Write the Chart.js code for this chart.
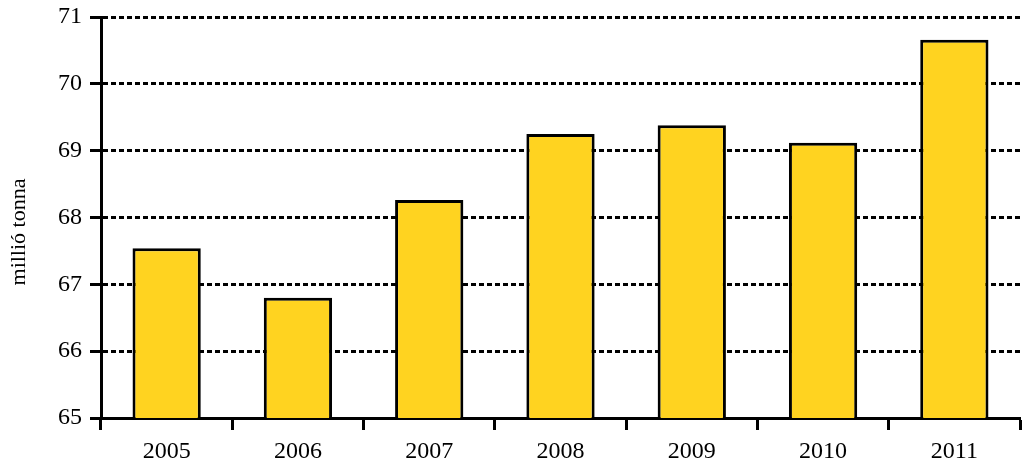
<!DOCTYPE html>
<html>
<head>
<meta charset="utf-8">
<script src="https://cdn.jsdelivr.net/npm/chart.js@4/dist/chart.umd.min.js"></script>
<style>
  html, body { margin: 0; padding: 0; background: #fff; }
  #wrap { width: 1022px; height: 465px; }
</style>
</head>
<body>
<div id="wrap"><canvas id="chart"></canvas></div>
<script>
const years = ['2005', '2006', '2007', '2008', '2009', '2010', '2011'];
const tonnes = [67.54, 66.80, 68.26, 69.25, 69.38, 69.12, 70.66];
const yTicks = [65, 66, 67, 68, 69, 70, 71];
const yTitle = 'millió tonna';

const serif = '"Liberation Serif", "DejaVu Serif", serif';

// rotated axis title, centred on the canvas height like the original
const sideTitle = {
    id: 'sideTitle',
    afterDraw(chart) {
        const ctx = chart.ctx;
        ctx.save();
        ctx.translate(19, 232);
        ctx.rotate(-Math.PI / 2);
        ctx.font = '22px ' + serif;
        ctx.fillStyle = '#000';
        ctx.textAlign = 'center';
        ctx.textBaseline = 'middle';
        ctx.fillText(yTitle, 0, 0);
        ctx.restore();
    }
};

new Chart(document.getElementById('chart'), {
    type: 'bar',
    data: {
        labels: years,
        datasets: [{
            data: tonnes,
            backgroundColor: 'rgb(255,211,32)',
            borderColor: '#000',
            borderWidth: 3,
            borderSkipped: 'bottom',
            categoryPercentage: 1,
            barPercentage: 0.52
        }]
    },
    options: {
        responsive: true,
        maintainAspectRatio: false,
        animation: false,
        layout: { padding: { top: 0, right: 2, left: 0, bottom: 0 } },
        plugins: {
            legend: { display: false },
            tooltip: { enabled: false }
        },
        scales: {
            x: {
                offset: true,
                grid: {
                    offset: true,
                    drawOnChartArea: false,
                    drawTicks: true,
                    tickLength: 12,
                    tickWidth: 3,
                    tickColor: '#000'
                },
                border: { display: true, color: '#000', width: 3 },
                ticks: {
                    color: '#000',
                    font: { family: serif, size: 24 },
                    padding: 7
                },
                afterFit(scale) { scale.height = 47; }
            },
            y: {
                min: 65,
                max: 71,
                afterBuildTicks(scale) {
                    scale.ticks = yTicks.map(v => ({ value: v }));
                },
                grid: {
                    color: '#000',
                    lineWidth: 3,
                    tickLength: 11,
                    tickWidth: 3,
                    tickColor: '#000',
                    tickBorderDash: []
                },
                border: { display: true, color: '#000', width: 3, dash: [5, 3] },
                ticks: {
                    color: '#000',
                    font: { family: serif, size: 24 },
                    padding: 8
                },
                afterFit(scale) {
                    scale.width = 101;
                    scale.paddingTop = 17;
                    scale.paddingBottom = 0;
                }
            }
        }
    },
    plugins: [sideTitle]
});
</script>
</body>
</html>
